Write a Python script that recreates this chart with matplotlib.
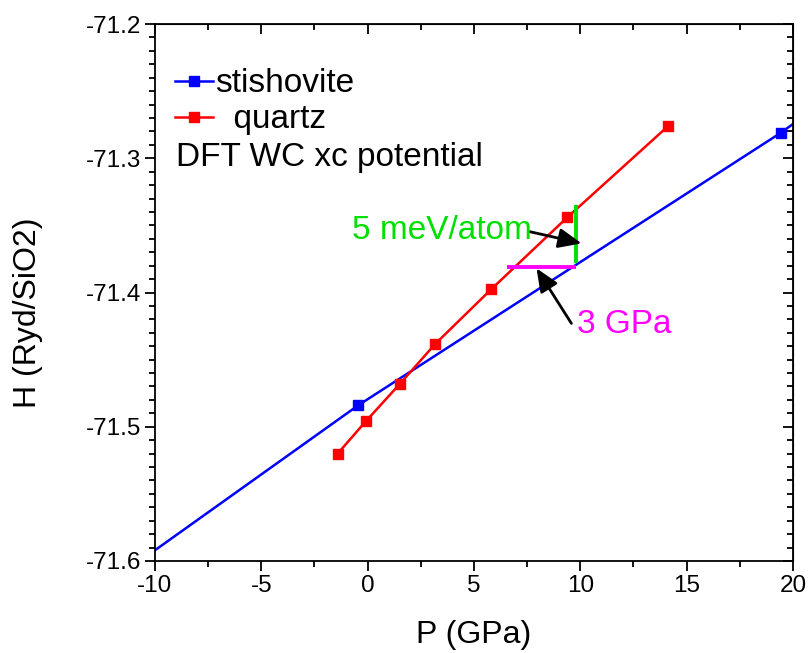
import numpy as np
import matplotlib
matplotlib.use("Agg")
import matplotlib.pyplot as plt
from matplotlib.ticker import MultipleLocator

plt.rcParams["font.family"] = ["Liberation Sans", "DejaVu Sans"]
plt.rcParams["axes.unicode_minus"] = False

# stishovite: fitted line across the axis range, markers at the computed points
stish_P = [-10.0, -0.44, 19.43, 20.0]
stish_H = [-71.592, -71.484, -71.281, -71.2745]
stish_marks = [1, 2]

# quartz points
quartz_P = [-1.41, -0.09, 1.52, 3.16, 5.81, 9.39, 14.13]
quartz_H = [-71.520, -71.496, -71.468, -71.4386, -71.3976, -71.344, -71.276]

# annotation markers
dE_P = [9.82, 9.82]
dE_H = [-71.3348, -71.3783]
dP_P = [6.53, 9.82]
dP_H = [-71.3807, -71.3807]

fig = plt.figure(figsize=(8.08, 6.53), dpi=100)
ax = fig.add_axes([0.1918, 0.1409, 0.7896, 0.8223])

ax.plot(stish_P, stish_H, color="#0000ff", lw=1.8, marker="s", ms=7,
        markevery=stish_marks, label="stishovite")
ax.plot(quartz_P, quartz_H, color="#ff0000", lw=1.8, marker="s", ms=7,
        label="  quartz")

ax.plot(dE_P, dE_H, color="#00e000", lw=2.8, solid_capstyle="butt")
ax.plot(dP_P, dP_H, color="#ff00ff", lw=2.8, solid_capstyle="butt")

arrow = dict(arrowstyle="-|>,head_length=0.7,head_width=0.3", color="black",
             lw=2, shrinkA=0, shrinkB=0, mutation_scale=20)
ax.annotate("", xy=(10.06, -71.3634), xytext=(7.63, -71.3547), arrowprops=arrow)
ax.annotate("", xy=(7.94, -71.382), xytext=(9.58, -71.423), arrowprops=arrow)

ax.text(-0.75, -71.3536, "5 meV/atom", color="#00e000", fontsize=24,
        ha="left", va="center")
ax.text(9.84, -71.424, "3 GPa", color="#ff00ff", fontsize=24,
        ha="left", va="center")

ax.set_xlim(-10, 20)
ax.set_ylim(-71.6, -71.2)
ax.xaxis.set_major_locator(MultipleLocator(5))
ax.xaxis.set_minor_locator(MultipleLocator(2.5))
ax.yaxis.set_major_locator(MultipleLocator(0.1))
ax.yaxis.set_minor_locator(MultipleLocator(0.01))
ax.tick_params(which="both", direction="out", top=False, right=False,
               labelsize=17.5, width=1.3)
ax.tick_params(which="major", length=7, pad=3)
ax.tick_params(which="minor", length=4)
for s in ax.spines.values():
    s.set_linewidth(1.3)

# mirrored axes on top/right with inward ticks
sx = ax.secondary_xaxis("top")
sx.xaxis.set_major_locator(MultipleLocator(5))
sx.xaxis.set_minor_locator(MultipleLocator(2.5))
sx.tick_params(which="both", direction="in", labeltop=False, width=1.3)
sx.tick_params(which="major", length=7)
sx.tick_params(which="minor", length=4)
sy = ax.secondary_yaxis("right")
sy.yaxis.set_major_locator(MultipleLocator(0.1))
sy.yaxis.set_minor_locator(MultipleLocator(0.01))
sy.tick_params(which="both", direction="in", labelright=False, width=1.3)
sy.tick_params(which="major", length=7)
sy.tick_params(which="minor", length=4)

ax.set_xlabel("P (GPa)", fontsize=23)
ax.set_ylabel("H (Ryd/SiO2)", fontsize=23)
ax.xaxis.set_label_coords(0.5, -0.11)
ax.yaxis.set_label_coords(-0.175, 0.462)

ax.legend(loc="upper left", bbox_to_anchor=(0.0, 0.955), frameon=False,
          fontsize=24, handlelength=1.15, handletextpad=0.05,
          labelspacing=0.15, borderaxespad=0.6, borderpad=0)
ax.text(0.033, 0.752, "DFT WC xc potential", transform=ax.transAxes,
        fontsize=24, ha="left", va="center")

fig.savefig("out.png", dpi=100)
